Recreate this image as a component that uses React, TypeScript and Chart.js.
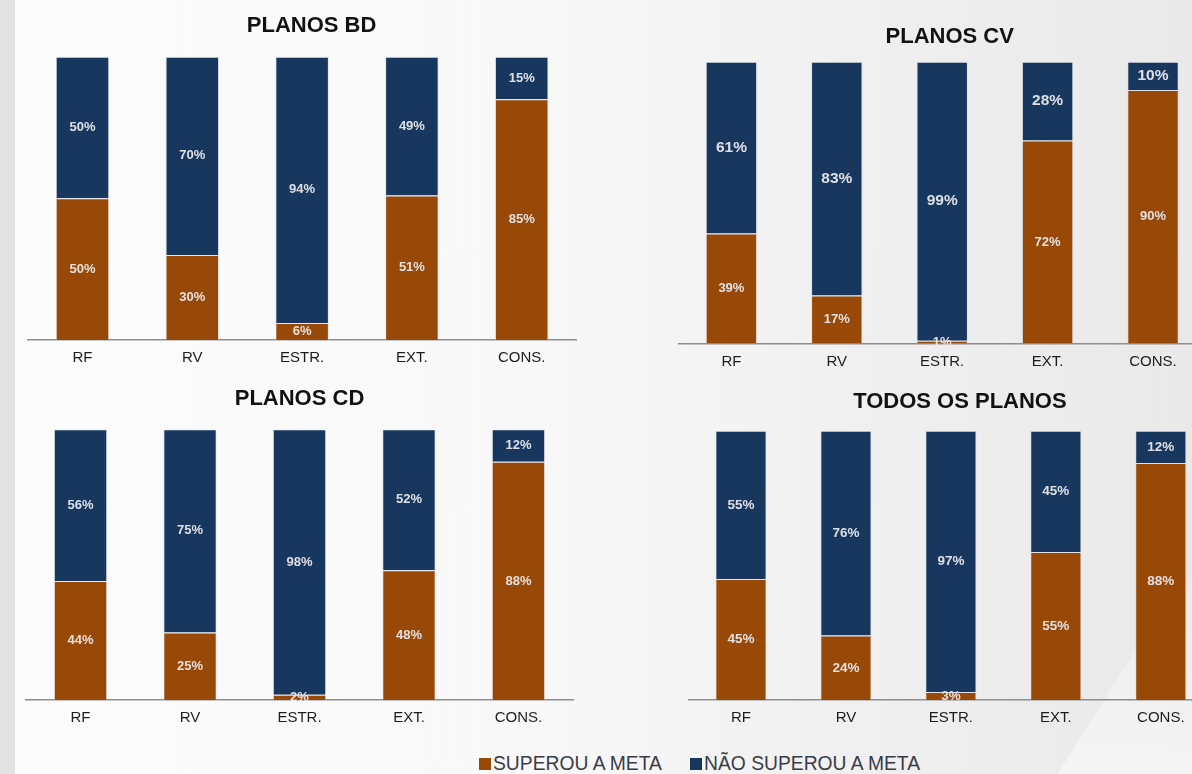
import React, { useEffect, useRef } from "react";
import { Chart, registerables } from "chart.js";

Chart.register(...registerables);

// ---------- data ----------
const categories = ["RF", "RV", "ESTR.", "EXT.", "CONS."];
const seriesNames = ["SUPEROU A META", "NÃO SUPEROU A META"];

const bdSuperou = [50, 30, 6, 51, 85];
const bdNao = [50, 70, 94, 49, 15];

const cvSuperou = [39, 17, 1, 72, 90];
const cvNao = [61, 83, 99, 28, 10];

const cdSuperou = [44, 25, 2, 48, 88];
const cdNao = [56, 75, 98, 52, 12];

const todosSuperou = [45, 24, 3, 55, 88];
const todosNao = [55, 76, 97, 45, 12];

const titles = ["PLANOS BD", "PLANOS CV", "PLANOS CD", "TODOS OS PLANOS"];

// ---------- styles ----------
const BROWN = "#984807";
const NAVY = "#17375e";
const FONT = '"Liberation Sans", Arial, Helvetica, sans-serif';

const valueLabels = {
  id: "valueLabels",
  afterDatasetsDraw(chart: any, _args: any, opts: any) {
    const ctx = chart.ctx;
    ctx.save();
    ctx.textAlign = "center";
    ctx.textBaseline = "middle";
    ctx.fillStyle = opts.color;
    chart.data.datasets.forEach((ds: any, i: number) => {
      const meta = chart.getDatasetMeta(i);
      ctx.font = `bold ${opts.sizes[i]}px ${FONT}`;
      meta.data.forEach((bar: any, j: number) => {
        const p = bar.getProps(["x", "y", "base"], true);
        ctx.fillText(`${ds.data[j]}%`, p.x, (p.y + p.base) / 2);
      });
    });
    ctx.restore();
  },
};

type Panel = {
  title: string;
  superou: number[];
  nao: number[];
  left: number;
  top: number;
  width: number;
  height: number;
  pad: { left: number; right: number; top: number; bottom: number };
  titlePad: { top: number; bottom: number };
  yWidth: number;
  labelSizes: number[];
};

const panels: Panel[] = [
  {
    title: titles[0], superou: bdSuperou, nao: bdNao,
    left: 15, top: 0, width: 581, height: 378,
    pad: { left: 12.6, right: 0.4, top: 0, bottom: 2 },
    titlePad: { top: 12.6, bottom: 17.7 }, yWidth: 19, labelSizes: [13, 13],
  },
  {
    title: titles[1], superou: cvSuperou, nao: cvNao,
    left: 660, top: 0, width: 561, height: 381,
    pad: { left: 18.7, right: 0.3, top: 0, bottom: 1.5 },
    titlePad: { top: 23.3, bottom: 12 }, yWidth: 15, labelSizes: [13, 15.5],
  },
  {
    title: titles[2], superou: cdSuperou, nao: cdNao,
    left: 15, top: 375, width: 559, height: 363,
    pad: { left: 10.8, right: 0.8, top: 0, bottom: 1.8 },
    titlePad: { top: 11, bottom: 16.9 }, yWidth: 0, labelSizes: [13, 13],
  },
  {
    title: titles[3], superou: todosSuperou, nao: todosNao,
    left: 660, top: 375, width: 572, height: 363,
    pad: { left: 28.5, right: 0.7, top: 0, bottom: 1.8 },
    titlePad: { top: 13.5, bottom: 15.8 }, yWidth: 18, labelSizes: [13.5, 13.5],
  },
];

function StackChart({ p }: { p: Panel }) {
  const ref = useRef<HTMLCanvasElement | null>(null);
  useEffect(() => {
    if (!ref.current) return;
    const segBorder = "rgba(215,215,222,0.55)";
    const chart = new Chart(ref.current, {
      type: "bar",
      data: {
        labels: categories,
        datasets: [
          {
            label: seriesNames[0],
            data: p.superou,
            backgroundColor: BROWN,
            borderColor: segBorder,
            borderWidth: 1,
            barPercentage: 0.488,
            categoryPercentage: 1,
          },
          {
            label: seriesNames[1],
            data: p.nao,
            backgroundColor: NAVY,
            borderColor: segBorder,
            borderWidth: 1,
            barPercentage: 0.488,
            categoryPercentage: 1,
          },
        ],
      },
      options: {
        responsive: false,
        maintainAspectRatio: false,
        animation: false,
        layout: { padding: p.pad },
        plugins: {
          legend: { display: false },
          tooltip: { enabled: false },
          title: {
            display: true,
            text: p.title,
            color: "#111111",
            font: { family: FONT, size: 22, weight: "bold" },
            padding: p.titlePad,
          },
          valueLabels: { color: "rgba(232,232,236,0.95)", sizes: p.labelSizes },
        } as any,
        scales: {
          x: {
            stacked: true,
            grid: { display: false, drawTicks: false },
            border: { display: true, color: "#8e8e8e", width: 1.5 },
            ticks: { color: "#1c1c1c", font: { family: FONT, size: 15 }, padding: 9 },
          },
          y: {
            stacked: true,
            min: 0,
            max: 100,
            display: p.yWidth > 0,
            position: "right",
            ticks: { display: false },
            grid: { display: false, drawTicks: false },
            border: { display: false },
            afterFit: (s: any) => {
              s.width = p.yWidth;
            },
          },
        },
      },
      plugins: [valueLabels as any],
    });
    return () => chart.destroy();
  }, [p]);
  return (
    <canvas
      ref={ref}
      width={p.width}
      height={p.height}
      style={{ position: "absolute", left: p.left, top: p.top, width: p.width, height: p.height }}
    />
  );
}

export default function App() {
  return (
    <div
      style={{
        position: "absolute",
        left: 0,
        top: 0,
        width: 1192,
        height: 774,
        overflow: "hidden",
        background: "linear-gradient(90deg, #fcfcfc 0%, #f8f8f8 45%, #efeff0 75%, #e9e9ea 100%)",
        fontFamily: FONT,
      }}
    >
      <div style={{ position: "absolute", left: 0, top: 0, width: 15, height: 774, background: "#e3e3e3" }} />
      <div
        style={{
          position: "absolute",
          left: 1000,
          top: 560,
          width: 192,
          height: 214,
          background: "linear-gradient(180deg, rgba(246,246,247,0.0) 0%, rgba(246,246,247,0.9) 100%)",
          clipPath: "polygon(100% 0%, 100% 100%, 30% 100%)",
        }}
      />
      {panels.map((p) => (
        <StackChart key={p.title} p={p} />
      ))}
      {[0, 1].map((i) => (
        <div
          key={i}
          style={{
            position: "absolute",
            left: i === 0 ? 479 : 690,
            top: 753,
            height: 22,
            display: "flex",
            alignItems: "center",
            color: "#3b3b45",
            fontSize: 19.3,
            lineHeight: "22px",
            whiteSpace: "nowrap",
          }}
        >
          <span
            style={{
              display: "inline-block",
              width: 12,
              height: 12,
              marginRight: 2,
              background: i === 0 ? BROWN : NAVY,
            }}
          />
          <span>{seriesNames[i]}</span>
        </div>
      ))}
    </div>
  );
}
